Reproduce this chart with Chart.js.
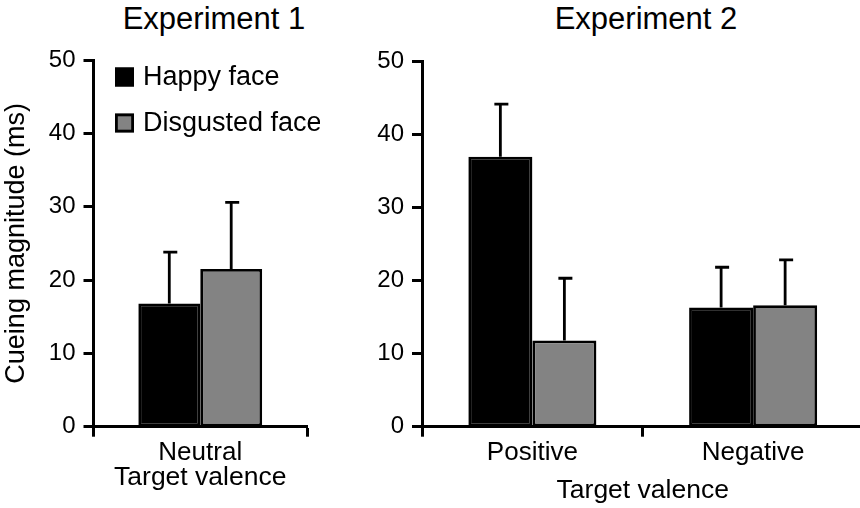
<!DOCTYPE html>
<html>
<head>
<meta charset="utf-8">
<script src="https://cdn.jsdelivr.net/npm/chart.js@4/dist/chart.umd.min.js"></script>
<style>
  html, body { margin: 0; padding: 0; background: #fff; }
  body { width: 860px; height: 508px; position: relative; overflow: hidden; font-family: 'Liberation Sans', Arial, sans-serif; }
  canvas { position: absolute; top: 0; }
  #chart1 { left: 0; }
  #chart2 { left: 330px; }
  .panel-title { position: absolute; top: 3px; width: 300px; text-align: center; font-size: 31px; line-height: 31px; color: #000; }
</style>
</head>
<body>
<div class="panel-title" style="left:64px;">Experiment 1</div>
<div class="panel-title" style="left:496px;">Experiment 2</div>
<canvas id="chart1" width="320" height="508"></canvas>
<canvas id="chart2" width="535" height="508"></canvas>
<script>
// --- data ---
const SERIES = ['Happy face', 'Disgusted face'];
const COLORS = ['#000000', '#838383'];

const exp1Labels = ['Neutral'];
const exp1Happy = [16.8];
const exp1HappyErr = [7.0];
const exp1Disgusted = [21.5];
const exp1DisgustedErr = [9.1];

const exp2Labels = ['Positive', 'Negative'];
const exp2Happy = [36.9, 16.3];
const exp2HappyErr = [7.2, 5.5];
const exp2Disgusted = [11.8, 16.6];
const exp2DisgustedErr = [8.5, 6.2];

const yTicks = [0, 10, 20, 30, 40, 50];

Chart.defaults.font.family = "'Liberation Sans', Arial, sans-serif";
Chart.defaults.color = '#000';

// upper error bars, drawn from the bar top through the y scale
const errorBars = {
    id: 'errorBars',
    afterDatasetsDraw(chart) {
        const ctx = chart.ctx;
        const y = chart.scales.y;
        ctx.save();
        ctx.strokeStyle = '#000';
        ctx.lineWidth = 2.8;
        chart.data.datasets.forEach((ds, di) => {
            const meta = chart.getDatasetMeta(di);
            meta.data.forEach((bar, i) => {
                const top = y.getPixelForValue(ds.data[i] + ds.errors[i]);
                ctx.beginPath();
                ctx.moveTo(bar.x, bar.y);
                ctx.lineTo(bar.x, top);
                ctx.moveTo(bar.x - 6, top);
                ctx.lineTo(bar.x + 8, top);
                ctx.stroke();
            });
        });
        ctx.restore();
    }
};

// legend inside the first panel
const insideLegend = {
    id: 'insideLegend',
    afterDraw(chart) {
        const ctx = chart.ctx;
        ctx.save();
        ctx.font = "27px 'Liberation Sans', Arial, sans-serif";
        ctx.textBaseline = 'middle';
        chart.data.datasets.forEach((ds, i) => {
            const cy = 77 + i * 46;
            ctx.fillStyle = ds.backgroundColor;
            ctx.fillRect(115, cy - 9.5, 19, 19);
            ctx.strokeStyle = '#000';
            ctx.lineWidth = 2.8;
            ctx.strokeRect(116.4, cy - 8.1, 16.2, 16.2);
            ctx.fillStyle = '#000';
            ctx.fillText(ds.label, 143, cy + 1);
        });
        ctx.restore();
    }
};

function makeDatasets(happy, happyErr, disg, disgErr) {
    return [
        { label: SERIES[0], data: happy, errors: happyErr, backgroundColor: COLORS[0], borderColor: '#000', borderWidth: 2.8, borderSkipped: false },
        { label: SERIES[1], data: disg, errors: disgErr, backgroundColor: COLORS[1], borderColor: '#000', borderWidth: 2.8, borderSkipped: false }
    ];
}

function makeOptions(opts) {
    return {
        responsive: false,
        animation: false,
        layout: { padding: { left: 0, right: opts.padRight, top: opts.padTop, bottom: 0 } },
        datasets: { bar: { categoryPercentage: 0.58, barPercentage: 1 } },
        plugins: { legend: { display: false }, tooltip: { enabled: false } },
        scales: {
            x: {
                afterFit: s => { s.height = 508 - 426.7; },
                grid: { display: true, drawOnChartArea: false, drawTicks: true, tickLength: 10, tickColor: '#000', tickWidth: 3, offset: true },
                border: { color: '#000', width: 3 },
                ticks: { padding: 1, font: { size: 26 }, color: '#000' },
                title: { display: true, text: 'Target valence', font: { size: 26.5 }, color: '#000', padding: { top: 0, bottom: opts.xTitlePad } }
            },
            y: {
                min: 0,
                max: 50,
                afterFit: s => { s.width = opts.yWidth; },
                afterBuildTicks: s => { s.ticks = yTicks.map(v => ({ value: v })); },
                grid: { display: true, drawOnChartArea: false, drawTicks: true, tickLength: 10, tickColor: '#000', tickWidth: 3 },
                border: { color: '#000', width: 3 },
                ticks: { padding: 8, font: { size: 24 }, color: '#000' },
                title: { display: opts.yTitle, text: 'Cueing magnitude (ms)', font: { size: 27 }, color: '#000', padding: { top: 0, bottom: 0 } }
            }
        }
    };
}

new Chart(document.getElementById('chart1'), {
    type: 'bar',
    data: { labels: exp1Labels, datasets: makeDatasets(exp1Happy, exp1HappyErr, exp1Disgusted, exp1DisgustedErr) },
    options: makeOptions({ padRight: 13, padTop: 60, yWidth: 93.5, yTitle: true, xTitlePad: 14 }),
    plugins: [errorBars, insideLegend]
});

new Chart(document.getElementById('chart2'), {
    type: 'bar',
    data: { labels: exp2Labels, datasets: makeDatasets(exp2Happy, exp2HappyErr, exp2Disgusted, exp2DisgustedErr) },
    options: makeOptions({ padRight: 1.5, padTop: 61, yWidth: 92, yTitle: false, xTitlePad: 1.5 }),
    plugins: [errorBars]
});
</script>
</body>
</html>
